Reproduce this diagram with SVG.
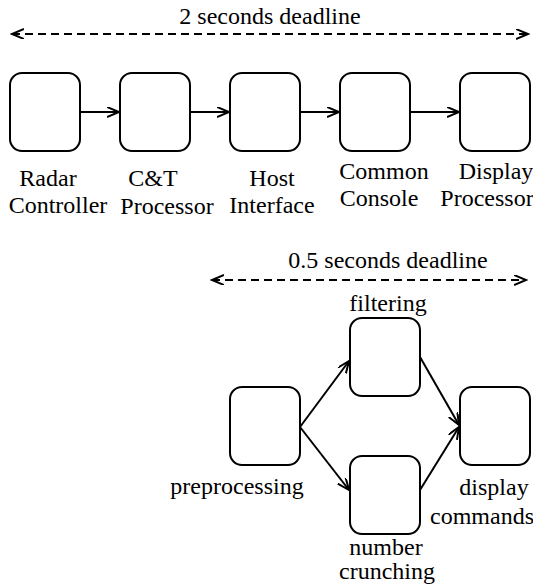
<svg xmlns="http://www.w3.org/2000/svg" width="533" height="585" viewBox="0 0 533 585">
<defs>
<style>
.box{fill:#fff;stroke:#000;stroke-width:2}
text{font-family:'Liberation Serif','Times New Roman',serif;font-size:24px;fill:#000;text-anchor:middle}
.c{fill:none;stroke:#000;stroke-width:2}
.d{fill:none;stroke:#000;stroke-width:2;stroke-dasharray:8 5}
</style>
<marker id="ah" markerUnits="userSpaceOnUse" markerWidth="14" markerHeight="12" refX="12" refY="5" orient="auto-start-reverse" viewBox="0 0 14 12">
<path d="M0,0 L12,5 L0,10" fill="none" stroke="#000" stroke-width="2"/>
</marker>
</defs>
<rect width="533" height="585" fill="#fff"/>
<g id="deadline1">
<text x="270" y="24">2 seconds deadline</text>
<line class="d" x1="12" y1="34" x2="528" y2="34" marker-start="url(#ah)" marker-end="url(#ah)"/>
</g>
<g id="deadline2">
<text x="388" y="268">0.5 seconds deadline</text>
<line class="d" x1="212" y1="280" x2="526" y2="280" marker-start="url(#ah)" marker-end="url(#ah)"/>
</g>
<g id="radar">
<rect class="box" x="10" y="73" width="70" height="78" rx="12"/>
<text x="48" y="186">Radar</text>
<text x="58" y="213">Controller</text>
</g>
<g id="ct">
<rect class="box" x="120" y="73" width="70" height="78" rx="12"/>
<text x="153" y="186">C&amp;T</text>
<text x="167" y="214">Processor</text>
</g>
<g id="host">
<rect class="box" x="230" y="73" width="70" height="78" rx="12"/>
<text x="272" y="186">Host</text>
<text x="272" y="213">Interface</text>
</g>
<g id="console">
<rect class="box" x="340" y="73" width="70" height="78" rx="12"/>
<text x="384" y="179">Common</text>
<text x="379" y="206">Console</text>
</g>
<g id="display">
<rect class="box" x="460" y="73" width="70" height="78" rx="12"/>
<text x="496" y="179">Display</text>
<text x="487" y="206">Processor</text>
</g>
<g id="filtering">
<rect class="box" x="350" y="318" width="70" height="78" rx="12"/>
<text x="388" y="311">filtering</text>
</g>
<g id="preprocessing">
<rect class="box" x="230" y="387" width="70" height="78" rx="12"/>
<text x="237" y="494">preprocessing</text>
</g>
<g id="crunching">
<rect class="box" x="350" y="456" width="70" height="78" rx="12"/>
<text x="386" y="555">number</text>
<text x="387" y="579">crunching</text>
</g>
<g id="commands">
<rect class="box" x="460" y="387" width="70" height="78" rx="12"/>
<text x="494" y="495">display</text>
<text x="482" y="524">commands</text>
</g>
<g id="connectors">
<line class="c" x1="80" y1="112" x2="119" y2="112" marker-end="url(#ah)"/>
<line class="c" x1="190" y1="112" x2="229" y2="112" marker-end="url(#ah)"/>
<line class="c" x1="300" y1="112" x2="339" y2="112" marker-end="url(#ah)"/>
<line class="c" x1="410" y1="112" x2="459" y2="112" marker-end="url(#ah)"/>
<line class="c" x1="300" y1="427" x2="349" y2="361" marker-end="url(#ah)"/>
<line class="c" x1="300" y1="427" x2="349" y2="490" marker-end="url(#ah)"/>
<line class="c" x1="420" y1="357" x2="459" y2="425" marker-end="url(#ah)"/>
<line class="c" x1="420" y1="490" x2="459" y2="427" marker-end="url(#ah)"/>
</g>
</svg>
